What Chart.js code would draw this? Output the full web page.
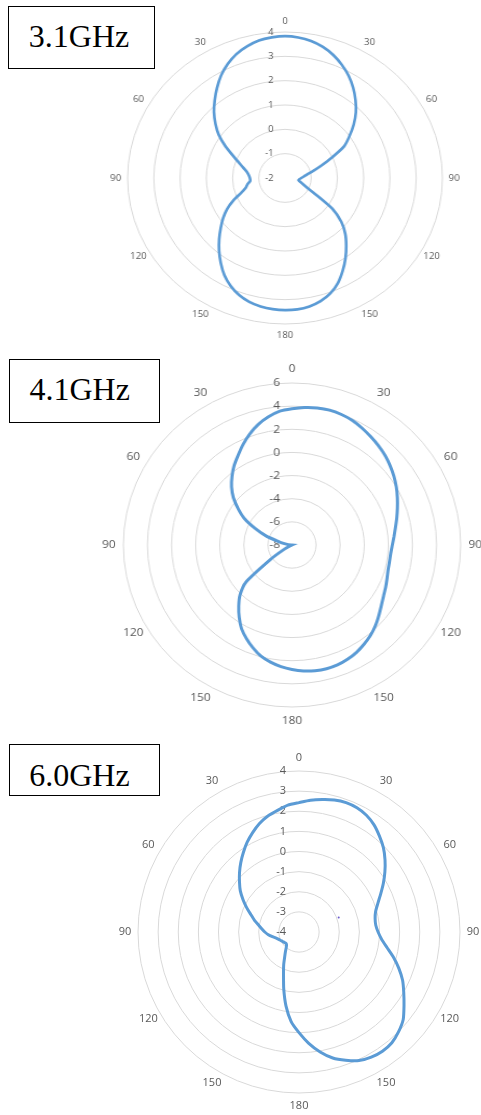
<!DOCTYPE html>
<html lang="en">
<head>
<meta charset="UTF-8">
<title>Radiation patterns 3.1 / 4.1 / 6.0 GHz</title>
<script src="https://cdn.jsdelivr.net/npm/chart.js"></script>
<style>
  body { margin: 0; background: #fff; }
  #page { position: relative; width: 481px; height: 1115px; overflow: hidden; }
  .plot { position: absolute; }
  .freq { position: absolute; box-sizing: border-box; border: 1.5px solid #000; background: #fff; z-index: 2; }
  .freq span { position: absolute; left: 19.5px; top: 13.3px; font-family: "Liberation Serif", "Times New Roman", serif; font-size: 32px; line-height: 32px; color: #000; white-space: nowrap; }
</style>
</head>
<body>
<div id="page">
  <div class="freq" style="left:8.3px; top:5.7px; width:146.4px; height:63.6px;"><span>3.1GHz</span></div>
  <div class="freq" style="left:9px; top:359px; width:150.7px; height:63.7px;"><span>4.1GHz</span></div>
  <div class="freq" style="left:8.7px; top:744.3px; width:151px; height:51.7px;"><span>6.0GHz</span></div>

  <div class="plot" style="left:103.3px; top:-4px; transform:scaleX(1.078); transform-origin:182px 182px;">
    <canvas id="chart31" width="364" height="364"></canvas>
  </div>
  <div class="plot" style="left:93.7px; top:347px; transform:scaleX(1.041); transform-origin:198px 198px;">
    <canvas id="chart41" width="396" height="396"></canvas>
  </div>
  <div class="plot" style="left:101.7px; top:735px;">
    <canvas id="chart60" width="394" height="394"></canvas>
  </div>
</div>

<script>
// measurement angles, degrees clockwise from the top
const angles = [0, 5, 10, 15, 20, 25, 30, 35, 40, 45, 50, 55,
                60, 65, 70, 75, 80, 85, 90, 95, 100, 105, 110, 115,
                120, 125, 130, 135, 140, 145, 150, 155, 160, 165, 170, 175,
                180, 185, 190, 195, 200, 205, 210, 215, 220, 225, 230, 235,
                240, 245, 250, 255, 260, 265, 270, 275, 280, 285, 290, 295,
                300, 305, 310, 315, 320, 325, 330, 335, 340, 345, 350, 355];

// labels shown every 30 degrees round the rim
const angleLabels = ['0', '30', '60', '90', '120', '150', '180', '150', '120', '90', '60', '30'];

// radial tick labels
const ticks31 = [-2, -1, 0, 1, 2, 3, 4];
const ticks41 = [-8, -6, -4, -2, 0, 2, 4, 6];
const ticks60 = [-4, -3, -2, -1, 0, 1, 2, 3, 4];

// gain (dB) at each angle
const gain31 = [3.83, 3.80, 3.72, 3.58, 3.38, 3.13, 2.85, 2.53, 2.18, 1.82, 1.42, 1.00,
                0.60, -0.05, -0.55, -0.90, -1.14, -1.28, -1.38, -1.45, -1.48, -1.40, -1.28, -1.08,
                -0.65, 0.20, 0.80, 1.25, 1.63, 2.02, 2.40, 2.77, 3.05, 3.24, 3.36, 3.42,
                3.43, 3.41, 3.36, 3.27, 3.12, 2.90, 2.62, 2.27, 1.91, 1.55, 1.20, 0.88,
                0.55, 0.17, -0.22, -0.45, -0.55, -0.67, -0.66, -0.61, -0.52, -0.35, -0.12, 0.20,
                0.63, 1.08, 1.46, 1.83, 2.17, 2.52, 2.87, 3.17, 3.42, 3.60, 3.74, 3.80];

const gain41 = [3.78, 3.93, 4.03, 4.07, 4.00, 3.87, 3.65, 3.41, 3.18, 2.93, 2.64, 2.33,
                2.00, 1.65, 1.31, 1.00, 0.72, 0.50, 0.33, 0.23, 0.22, 0.26, 0.40, 0.58,
                0.78, 1.06, 1.42, 1.81, 2.16, 2.45, 2.71, 2.90, 3.03, 3.07, 3.03, 2.93,
                2.76, 2.55, 2.28, 1.95, 1.46, 0.93, 0.37, -0.36, -1.12, -1.90, -3.00, -5.80,
                -7.20, -7.90, -8.00, -8.00, -8.00, -8.00, -8.00, -7.70, -7.35, -6.80, -5.70, -4.65,
                -3.45, -2.55, -1.65, -0.90, -0.25, 0.38, 0.95, 1.60, 2.23, 2.80, 3.25, 3.62];

const gain60 = [2.43, 2.57, 2.68, 2.79, 2.84, 2.81, 2.70, 2.50, 2.22, 1.93, 1.58, 1.21,
                0.84, 0.48, 0.17, -0.06, -0.16, -0.17, -0.07, 0.12, 0.44, 0.86, 1.28, 1.68,
                2.01, 2.37, 2.76, 3.00, 3.18, 3.23, 3.18, 3.05, 2.78, 2.48, 2.05, 1.55,
                1.00, 0.47, -0.27, -1.07, -1.75, -2.20, -2.58, -2.83, -3.02, -3.12, -3.14, -3.10,
                -3.06, -3.00, -2.93, -2.83, -2.66, -2.47, -2.30, -2.14, -1.95, -1.70, -1.45, -1.13,
                -0.79, -0.44, -0.14, 0.18, 0.50, 0.82, 1.15, 1.45, 1.74, 1.97, 2.14, 2.33];

// the lone stray marker in the 6.0 GHz plot
const strayAngle60 = [70];
const strayGain60 = [-1.9];

// draws the radial tick labels beside the 0 degree spoke and the angle labels round the rim
const polarText = {
  id: 'polarText',
  beforeDatasetsDraw(chart, args, opts) {
    const r = chart.scales.r;
    const ctx = chart.ctx;
    ctx.save();
    ctx.fillStyle = '#595959';
    ctx.font = opts.size + 'px "Open Sans", sans-serif';
    ctx.textBaseline = 'middle';
    ctx.textAlign = 'right';
    opts.ticks.forEach(v => {
      ctx.fillText(String(v), r.xCenter - opts.tickGap, r.yCenter - r.getDistanceFromCenterForValue(v));
    });
    ctx.textAlign = 'center';
    const step = angles.length / angleLabels.length;
    angleLabels.forEach((txt, i) => {
      const p = r.getPointPosition(i * step, r.drawingArea + opts.labelGap);
      ctx.fillText(txt, p.x, p.y);
    });
    ctx.restore();
  }
};

function buildChart(id, values, tickValues, o) {
  const datasets = [{
    data: values,
    borderColor: '#5b9bd5',
    borderWidth: o.lineWidth,
    pointRadius: 0,
    fill: false,
    tension: 0.2
  }];
  if (o.extra) datasets.push(o.extra);

  return new Chart(document.getElementById(id), {
    type: 'radar',
    data: { labels: angles, datasets: datasets },
    options: {
      responsive: false,
      animation: false,
      devicePixelRatio: 1,
      layout: { padding: 36 },
      plugins: {
        legend: { display: false },
        tooltip: { enabled: false },
        polarText: { ticks: tickValues, size: o.fontSize, tickGap: o.tickGap, labelGap: o.labelGap }
      },
      scales: {
        r: {
          min: tickValues[0],
          max: tickValues[tickValues.length - 1],
          ticks: { display: false, stepSize: tickValues[1] - tickValues[0] },
          pointLabels: { display: false },
          angleLines: { display: false },
          grid: { circular: true, color: '#d9d9d9', lineWidth: 1 }
        }
      }
    },
    plugins: [polarText]
  });
}

buildChart('chart31', gain31, ticks31, { lineWidth: 2.6, fontSize: 9, tickGap: 10.5, labelGap: 11 });
buildChart('chart41', gain41, ticks41, { lineWidth: 3, fontSize: 11.5, tickGap: 11.5, labelGap: 14 });

const stray = angles.map(a => {
  const k = strayAngle60.indexOf(a);
  return k >= 0 ? strayGain60[k] : null;
});
buildChart('chart60', gain60, ticks60, {
  lineWidth: 3, fontSize: 11, tickGap: 13, labelGap: 13,
  extra: { data: stray, showLine: false, pointRadius: 1, borderWidth: 0, backgroundColor: '#6a5acd' }
});
</script>
</body>
</html>
